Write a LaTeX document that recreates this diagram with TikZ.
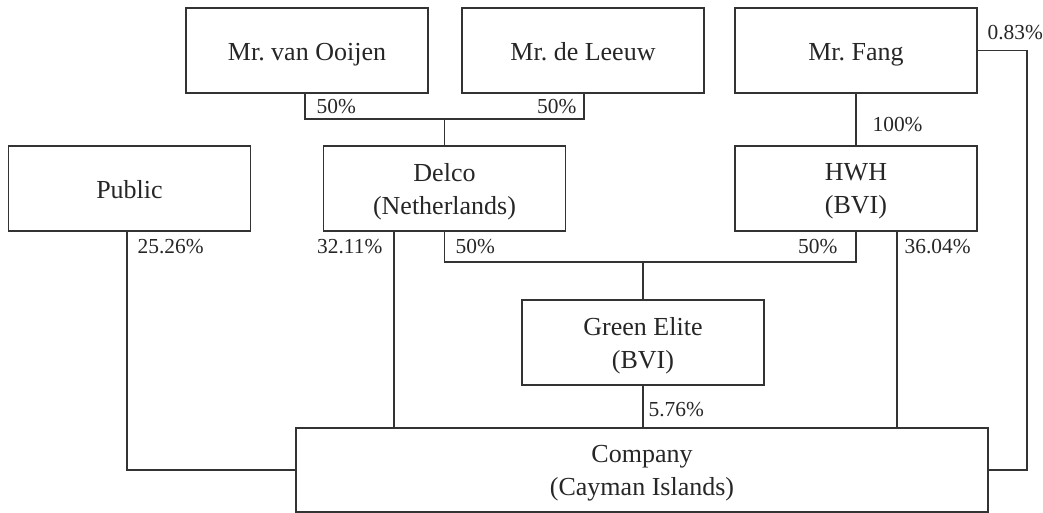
\documentclass[tikz,border=0pt]{standalone}
\usepackage{fontspec}
\setmainfont{Liberation Serif}
\frenchspacing
\begin{document}
\begin{tikzpicture}[x=0.5pt,y=-0.5pt,
  line width=0.6pt, draw=black!80,
  entity/.style={draw=black!80, line width=0.6pt, rectangle, inner sep=0pt,
    minimum width=121pt, minimum height=42.5pt, align=center, text depth=0pt,
    font=\fontsize{13}{16.5}\selectfont, text=black!85},
  oneline/.style={entity, text height=10pt},
  pct/.style={inner sep=0pt, font=\fontsize{10.7}{12}\selectfont, text=black!85}]
\useasboundingbox (0,0) rectangle (1043,513);
% boxes
\node[oneline] (vo) at (307,50.5) {Mr.\ van Ooijen};
\node[oneline] (dl) at (583,50.5) {Mr.\ de Leeuw};
\node[oneline] (fang) at (856,50.5) {Mr.\ Fang};
\node[oneline] (pub) at (129.5,188.5) {Public};
\node[entity] (delco) at (444.5,188.5) {Delco\\(Netherlands)};
\node[entity] (hwh) at (856,188.5) {HWH\\(BVI)};
\node[entity] (green) at (643,342.5) {Green Elite\\(BVI)};
\node[entity, minimum width=346pt, minimum height=42pt] (comp) at (642,470) {Company\\(Cayman Islands)};
% junctions
\coordinate (j1) at (444.5,119);
\coordinate (j2) at (643,262);
\coordinate (c83) at (1027,250);
% connectors
\draw ([xshift=-1pt]vo.south) |- (j1) -| ([xshift=0.5pt]dl.south);
\draw (j1) -- (delco.north);
\draw (fang.south) -- (hwh.north);
\draw (fang.east) -| (c83) |- (comp.east);
\draw ([xshift=-1.25pt]pub.south) |- (comp.west);
\draw ([xshift=-25.25pt]delco.south) -- ([xshift=-25.25pt]delco.south |- comp.north);
\draw (delco.south) |- (j2) -| (hwh.south);
\draw (j2) -- (green.north);
\draw ([xshift=20.5pt]hwh.south) -- ([xshift=20.5pt]hwh.south |- comp.north);
\draw (green.south) -- (comp.north -| green.south);
% labels
\node[pct, anchor=west] (l1) at (316,107) {50\%};
\node[pct, anchor=east] (l2) at (577,107) {50\%};
\node[pct, anchor=west] (l3) at (872,125) {100\%};
\node[pct, anchor=west] (l4) at (987,33) {0.83\%};
\node[pct, anchor=west] (l5) at (137,247) {25.26\%};
\node[pct, anchor=east] (l6) at (383,247) {32.11\%};
\node[pct, anchor=west] (l7) at (455,247) {50\%};
\node[pct, anchor=east] (l8) at (838,247) {50\%};
\node[pct, anchor=west] (l9) at (904,247) {36.04\%};
\node[pct, anchor=west] (l10) at (648,410) {5.76\%};
\end{tikzpicture}
\end{document}
